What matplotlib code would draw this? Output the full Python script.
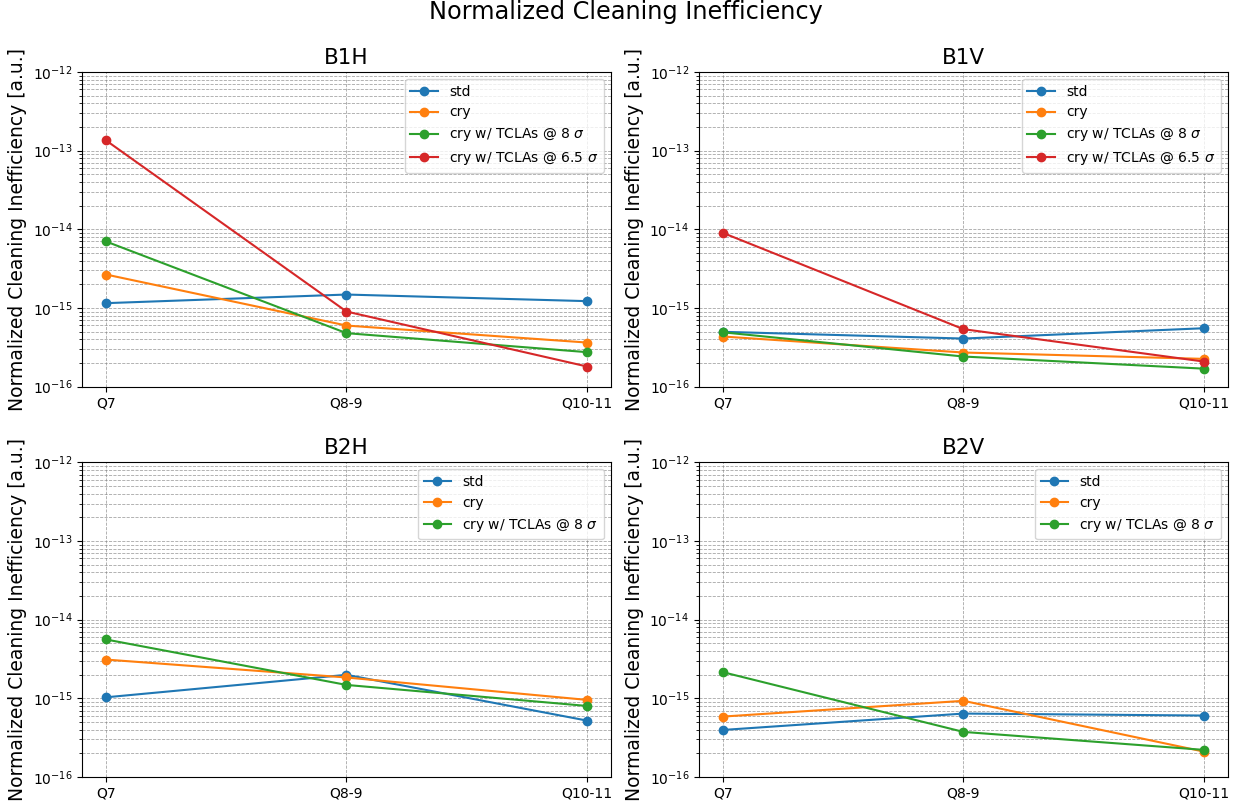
import matplotlib
matplotlib.use("Agg")
import matplotlib.pyplot as plt

positions = ["Q7", "Q8-9", "Q10-11"]
panels = ["B1H", "B1V", "B2H", "B2V"]
labels = ["std", "cry", r"cry w/ TCLAs @ 8 $\sigma$", r"cry w/ TCLAs @ 6.5 $\sigma$"]

# normalized cleaning inefficiency per panel, one list per configuration
b1h_std = [1.15e-15, 1.48e-15, 1.22e-15]
b1h_cry = [2.66e-15, 5.97e-16, 3.63e-16]
b1h_tcla8 = [7.0e-15, 4.78e-16, 2.74e-16]
b1h_tcla65 = [1.35e-13, 9.0e-16, 1.80e-16]

b1v_std = [4.97e-16, 4.08e-16, 5.52e-16]
b1v_cry = [4.33e-16, 2.71e-16, 2.25e-16]
b1v_tcla8 = [4.9e-16, 2.41e-16, 1.69e-16]
b1v_tcla65 = [9.0e-15, 5.37e-16, 2.08e-16]

b2h_std = [1.03e-15, 1.99e-15, 5.21e-16]
b2h_cry = [3.11e-15, 1.84e-15, 9.55e-16]
b2h_tcla8 = [5.6e-15, 1.48e-15, 8.0e-16]

b2v_std = [3.96e-16, 6.4e-16, 6.04e-16]
b2v_cry = [5.86e-16, 9.29e-16, 2.1e-16]
b2v_tcla8 = [2.15e-15, 3.74e-16, 2.21e-16]

data = {
    "B1H": [b1h_std, b1h_cry, b1h_tcla8, b1h_tcla65],
    "B1V": [b1v_std, b1v_cry, b1v_tcla8, b1v_tcla65],
    "B2H": [b2h_std, b2h_cry, b2h_tcla8],
    "B2V": [b2v_std, b2v_cry, b2v_tcla8],
}

fig, axs = plt.subplots(2, 2, figsize=(12.51, 8.09), dpi=100)
fig.subplots_adjust(left=0.0655, right=0.9816, top=0.911, bottom=0.0396,
                    wspace=0.166, hspace=0.241)
fig.suptitle("Normalized Cleaning Inefficiency", fontsize=17.3, y=1.0)

for ax, name in zip(axs.flat, panels):
    for series, lab in zip(data[name], labels):
        ax.plot(positions, series, marker="o", label=lab)
    ax.set_yscale("log")
    ax.set_ylim(1e-16, 1e-12)
    ax.set_title(name, fontsize=15.5)
    ax.set_ylabel("Normalized Cleaning Inefficiency [a.u.]", fontsize=13.5)
    ax.grid(True, which="major", axis="both", ls="--", color="grey", lw=0.6, alpha=0.7)
    ax.grid(True, which="minor", axis="y", ls="--", color="grey", lw=0.6, alpha=0.7)
    ax.legend(loc="upper right")

fig.savefig("out.png", dpi=100)
